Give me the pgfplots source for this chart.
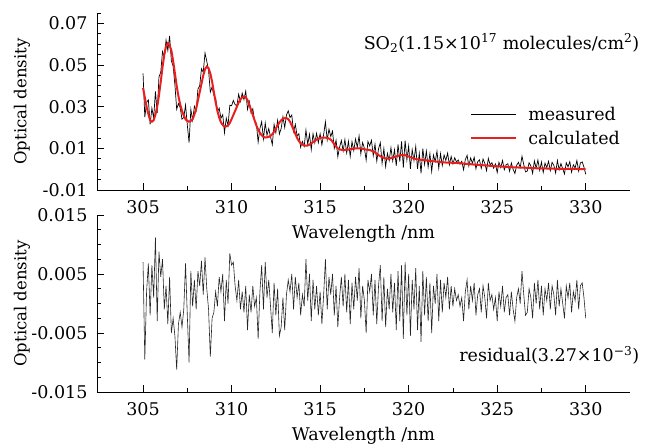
\documentclass[border=0pt]{standalone}
\usepackage{fontspec}
\setmainfont{DejaVu Serif}
\usepackage{pgfplots}
\usepackage{pgfplotstable}
\pgfplotsset{compat=1.18}
\definecolor{calcred}{RGB}{235,30,30}
\pgfplotstableread{
x calc meas res
305.0 0.0390 0.0460 0.0070
305.1 0.0345 0.0250 -0.0095
305.2 0.0300 0.0320 0.0020
305.3 0.0265 0.0333 0.0068
305.4 0.0235 0.0215 -0.0020
305.5 0.0228 0.0293 0.0065
305.6 0.0235 0.0245 0.0010
305.7 0.0262 0.0374 0.0112
305.8 0.0300 0.0270 -0.0030
305.9 0.0355 0.0443 0.0088
306.0 0.0420 0.0465 0.0045
306.1 0.0490 0.0565 0.0075
306.2 0.0550 0.0540 -0.0010
306.3 0.0590 0.0620 0.0030
306.4 0.0605 0.0570 -0.0035
306.5 0.0595 0.0640 0.0045
306.6 0.0570 0.0520 -0.0050
306.7 0.0520 0.0495 -0.0025
306.8 0.0460 0.0405 -0.0055
306.9 0.0400 0.0288 -0.0112
307.0 0.0350 0.0315 -0.0035
307.1 0.0310 0.0295 -0.0015
307.2 0.0280 0.0240 -0.0040
307.3 0.0258 0.0248 -0.0010
307.4 0.0240 0.0308 0.0068
307.5 0.0232 0.0212 -0.0020
307.6 0.0228 0.0128 -0.0100
307.7 0.0232 0.0287 0.0055
307.8 0.0240 0.0235 -0.0005
307.9 0.0262 0.0302 0.0040
308.0 0.0290 0.0280 -0.0010
308.1 0.0330 0.0385 0.0055
308.2 0.0370 0.0400 0.0030
308.3 0.0410 0.0482 0.0072
308.4 0.0450 0.0465 0.0015
308.5 0.0480 0.0558 0.0078
308.6 0.0493 0.0518 0.0025
308.7 0.0485 0.0475 -0.0010
308.8 0.0460 0.0370 -0.0090
308.9 0.0420 0.0395 -0.0025
309.0 0.0370 0.0355 -0.0015
309.1 0.0322 0.0342 0.0020
309.2 0.0280 0.0275 -0.0005
309.3 0.0248 0.0293 0.0045
309.4 0.0225 0.0245 0.0020
309.5 0.0212 0.0262 0.0050
309.6 0.0205 0.0175 -0.0030
309.7 0.0205 0.0245 0.0040
309.8 0.0210 0.0210 0.0000
309.9 0.0222 0.0307 0.0085
310.0 0.0240 0.0305 0.0065
310.1 0.0260 0.0330 0.0070
310.2 0.0280 0.0310 0.0030
310.3 0.0300 0.0305 0.0005
310.4 0.0320 0.0360 0.0040
310.5 0.0335 0.0325 -0.0010
310.6 0.0345 0.0365 0.0020
310.7 0.0349 0.0334 -0.0015
310.8 0.0345 0.0375 0.0030
310.9 0.0332 0.0287 -0.0045
311.0 0.0310 0.0325 0.0015
311.1 0.0285 0.0270 -0.0015
311.2 0.0260 0.0290 0.0030
311.3 0.0235 0.0230 -0.0005
311.4 0.0210 0.0220 0.0010
311.5 0.0190 0.0130 -0.0060
311.6 0.0175 0.0195 0.0020
311.7 0.0163 0.0228 0.0065
311.8 0.0155 0.0145 -0.0010
311.9 0.0152 0.0222 0.0070
312.0 0.0153 0.0163 0.0010
312.1 0.0155 0.0195 0.0040
312.2 0.0160 0.0155 -0.0005
312.3 0.0168 0.0118 -0.0050
312.4 0.0180 0.0215 0.0035
312.5 0.0195 0.0175 -0.0020
312.6 0.0210 0.0235 0.0025
312.7 0.0224 0.0169 -0.0055
312.8 0.0235 0.0195 -0.0040
312.9 0.0242 0.0252 0.0010
313.0 0.0245 0.0200 -0.0045
313.1 0.0245 0.0260 0.0015
313.2 0.0240 0.0280 0.0040
313.3 0.0228 0.0248 0.0020
313.4 0.0210 0.0260 0.0050
313.5 0.0190 0.0180 -0.0010
313.6 0.0170 0.0215 0.0045
313.7 0.0150 0.0160 0.0010
313.8 0.0135 0.0170 0.0035
313.9 0.0125 0.0105 -0.0020
314.0 0.0118 0.0133 0.0015
314.1 0.0114 0.0109 -0.0005
314.2 0.0113 0.0188 0.0075
314.3 0.0114 0.0119 0.0005
314.4 0.0118 0.0168 0.0050
314.5 0.0124 0.0094 -0.0030
314.6 0.0130 0.0170 0.0040
314.7 0.0136 0.0126 -0.0010
314.8 0.0142 0.0172 0.0030
314.9 0.0147 0.0127 -0.0020
315.0 0.0150 0.0170 0.0020
315.1 0.0152 0.0117 -0.0035
315.2 0.0152 0.0167 0.0015
315.3 0.0152 0.0227 0.0075
315.4 0.0150 0.0140 -0.0010
315.5 0.0147 0.0192 0.0045
315.6 0.0142 0.0157 0.0015
315.7 0.0132 0.0182 0.0050
315.8 0.0120 0.0100 -0.0020
315.9 0.0109 0.0139 0.0030
316.0 0.0100 0.0060 -0.0040
316.1 0.0096 0.0106 0.0010
316.2 0.0093 0.0138 0.0045
316.3 0.0092 0.0087 -0.0005
316.4 0.0092 0.0142 0.0050
316.5 0.0093 0.0078 -0.0015
316.6 0.0094 0.0134 0.0040
316.7 0.0096 0.0061 -0.0035
316.8 0.0097 0.0132 0.0035
316.9 0.0099 0.0089 -0.0010
317.0 0.0100 0.0145 0.0045
317.1 0.0100 0.0105 0.0005
317.2 0.0100 0.0160 0.0060
317.3 0.0099 0.0074 -0.0025
317.4 0.0098 0.0128 0.0030
317.5 0.0096 0.0101 0.0005
317.6 0.0094 0.0044 -0.0050
317.7 0.0093 0.0133 0.0040
317.8 0.0092 0.0112 0.0020
317.9 0.0089 0.0139 0.0050
318.0 0.0085 0.0065 -0.0020
318.1 0.0080 0.0120 0.0040
318.2 0.0074 0.0039 -0.0035
318.3 0.0068 0.0098 0.0030
318.4 0.0062 0.0127 0.0065
318.5 0.0058 0.0028 -0.0030
318.6 0.0054 0.0099 0.0045
318.7 0.0052 0.0012 -0.0040
318.8 0.0051 0.0076 0.0025
318.9 0.0051 0.0041 -0.0010
319.0 0.0053 0.0103 0.0050
319.1 0.0055 0.0040 -0.0015
319.2 0.0058 0.0093 0.0035
319.3 0.0061 0.0016 -0.0045
319.4 0.0064 0.0119 0.0055
319.5 0.0066 0.0036 -0.0030
319.6 0.0068 0.0133 0.0065
319.7 0.0068 0.0008 -0.0060
319.8 0.0067 0.0137 0.0070
319.9 0.0064 0.0044 -0.0020
320.0 0.0061 0.0111 0.0050
320.1 0.0057 0.0002 -0.0055
320.2 0.0054 0.0094 0.0040
320.3 0.0051 0.0041 -0.0010
320.4 0.0049 0.0109 0.0060
320.5 0.0047 0.0002 -0.0045
320.6 0.0046 0.0076 0.0030
320.7 0.0045 -0.0020 -0.0065
320.8 0.0044 0.0099 0.0055
320.9 0.0043 0.0023 -0.0020
321.0 0.0042 0.0087 0.0045
321.1 0.0041 0.0011 -0.0030
321.2 0.0040 0.0075 0.0035
321.3 0.0039 -0.0011 -0.0050
321.4 0.0038 0.0068 0.0030
321.5 0.0037 0.0037 0.0000
321.6 0.0036 0.0086 0.0050
321.7 0.0035 0.0005 -0.0030
321.8 0.0034 0.0074 0.0040
321.9 0.0033 0.0018 -0.0015
322.0 0.0033 0.0068 0.0035
322.1 0.0032 0.0042 0.0010
322.2 0.0032 0.0077 0.0045
322.3 0.0031 0.0021 -0.0010
322.4 0.0031 0.0061 0.0030
322.5 0.0030 0.0025 -0.0005
322.6 0.0030 0.0055 0.0025
322.7 0.0030 0.0035 0.0005
322.8 0.0029 0.0044 0.0015
322.9 0.0029 0.0024 -0.0005
323.0 0.0028 0.0038 0.0010
323.1 0.0027 -0.0003 -0.0030
323.2 0.0026 0.0046 0.0020
323.3 0.0026 0.0066 0.0040
323.4 0.0025 0.0015 -0.0010
323.5 0.0024 0.0054 0.0030
323.6 0.0023 0.0028 0.0005
323.7 0.0022 0.0057 0.0035
323.8 0.0022 0.0002 -0.0020
323.9 0.0021 0.0036 0.0015
324.0 0.0020 0.0045 0.0025
324.1 0.0019 0.0004 -0.0015
324.2 0.0019 0.0049 0.0030
324.3 0.0018 0.0028 0.0010
324.4 0.0018 -0.0007 -0.0025
324.5 0.0017 0.0052 0.0035
324.6 0.0016 0.0021 0.0005
324.7 0.0016 0.0031 0.0015
324.8 0.0015 0.0005 -0.0010
324.9 0.0015 0.0025 0.0010
325.0 0.0014 -0.0016 -0.0030
325.1 0.0013 0.0033 0.0020
325.2 0.0013 0.0008 -0.0005
325.3 0.0012 0.0042 0.0030
325.4 0.0012 -0.0003 -0.0015
325.5 0.0011 0.0021 0.0010
325.6 0.0011 0.0026 0.0015
325.7 0.0010 -0.0010 -0.0020
325.8 0.0010 0.0030 0.0020
325.9 0.0009 -0.0001 -0.0010
326.0 0.0009 -0.0021 -0.0030
326.1 0.0009 0.0019 0.0010
326.2 0.0008 0.0033 0.0025
326.3 0.0008 0.0008 0.0000
326.4 0.0007 0.0062 0.0055
326.5 0.0007 0.0022 0.0015
326.6 0.0007 -0.0013 -0.0020
326.7 0.0006 -0.0009 -0.0015
326.8 0.0006 0.0031 0.0025
326.9 0.0006 0.0016 0.0010
327.0 0.0005 -0.0020 -0.0025
327.1 0.0005 0.0040 0.0035
327.2 0.0005 0.0005 0.0000
327.3 0.0004 0.0044 0.0040
327.4 0.0004 -0.0006 -0.0010
327.5 0.0004 0.0034 0.0030
327.6 0.0004 -0.0016 -0.0020
327.7 0.0004 0.0029 0.0025
327.8 0.0003 0.0008 0.0005
327.9 0.0003 0.0038 0.0035
328.0 0.0003 -0.0007 -0.0010
328.1 0.0003 0.0033 0.0030
328.2 0.0003 0.0018 0.0015
328.3 0.0002 -0.0018 -0.0020
328.4 0.0002 0.0042 0.0040
328.5 0.0002 -0.0003 -0.0005
328.6 0.0002 0.0027 0.0025
328.7 0.0002 0.0002 0.0000
328.8 0.0002 -0.0023 -0.0025
328.9 0.0001 0.0031 0.0030
329.0 0.0001 0.0011 0.0010
329.1 0.0001 0.0036 0.0035
329.2 0.0001 -0.0014 -0.0015
329.3 0.0001 0.0021 0.0020
329.4 0.0001 0.0006 0.0005
329.5 0.0001 0.0041 0.0040
329.6 0.0000 -0.0010 -0.0010
329.7 0.0000 0.0030 0.0030
329.8 0.0000 0.0035 0.0035
329.9 0.0000 0.0010 0.0010
330.0 0.0000 -0.0025 -0.0025
}\data
\pgfplotsset{
  myaxis/.style={
    scale only axis, width=533pt, height=177pt,
    anchor=south west,
    font=\fontsize{17.5}{21}\selectfont,
    /pgf/number format/assume math mode=true,
    scaled y ticks=false, scaled x ticks=false,
    xmin=302.4, xmax=332.5,
    xtick={305,310,315,320,325,330},
    minor x tick num=1,
    axis x line*=bottom, axis y line*=left,
    axis line style={line width=0.9pt},
    tick style={black, line width=0.8pt},
    major tick length=7pt, minor tick length=4pt,
    tick align=inside,
    clip=false,
    xlabel={Wavelength /nm},
    ylabel={Optical density},
    xlabel style={at={(axis description cs:0.5,0)}, anchor=center, yshift=-44pt},
    ylabel style={at={(axis description cs:-0.1407,0.5)}, anchor=center, font=\fontsize{16.5}{19}\selectfont},
    yticklabel style={xshift=-6pt},
    xticklabel style={yshift=-7pt},
  }
}
\begin{document}
\begin{tikzpicture}
\path[use as bounding box] (-97pt,-54pt) rectangle (549pt,392pt);
\begin{axis}[myaxis, at={(0pt,202pt)},
  ymin=-0.01, ymax=0.075,
  ytick={-0.01,0.01,0.03,0.05,0.07},
  yticklabels={-0.01,0.01,0.03,0.05,0.07},
  minor ytick={-0.005,0,0.005,0.015,0.02,0.025,0.035,0.04,0.045,0.055,0.06,0.065,0.075},
  legend style={draw=none, fill=none, at={(0.70,0.36)}, anchor=west,
    font=\fontsize{17.5}{21}\selectfont, row sep=5pt, column sep=9pt, inner sep=0pt},
  legend cell align=left,
  legend image code/.code={\draw[#1] (0pt,0pt) -- (45pt,0pt);},
]
\addplot[black, line width=0.7pt] table[x=x, y=meas] {\data};
\addlegendentry{measured}
\addplot[calcred, line width=2pt] table[x=x, y=calc] {\data};
\addlegendentry{calculated}
\node[anchor=east, font=\fontsize{17.5}{21}\selectfont] at (rel axis cs:1.024,0.83) {SO\textsubscript{2}(1.15×10\textsuperscript{17} molecules/cm\textsuperscript{2})};
\end{axis}
\begin{axis}[myaxis, at={(0pt,0pt)},
  ymin=-0.015, ymax=0.015,
  ytick={-0.015,-0.005,0.005,0.015},
  yticklabels={-0.015,-0.005,0.005,0.015},
  minor y tick num=3,
]
\addplot[black!85, line width=0.6pt] table[x=x, y=res] {\data};
\node[anchor=east, font=\fontsize{17.5}{21}\selectfont] at (rel axis cs:1.024,0.209) {residual(3.27×10\textsuperscript{−3})};
\end{axis}
\end{tikzpicture}
\end{document}
